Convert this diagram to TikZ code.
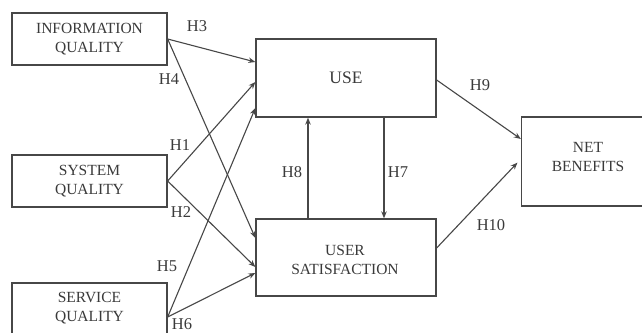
\documentclass[tikz,border=0pt]{standalone}
\usepackage{fontspec}
\setmainfont{Liberation Serif}
\usetikzlibrary{arrows.meta}
\definecolor{inkline}{HTML}{474747}
\definecolor{inktext}{HTML}{3A3A3A}
\tikzset{
  construct/.style={draw=inkline, line width=1.3pt, fill=white, text=inktext,
    align=center, inner sep=0pt, font=\fontsize{15.5}{18.3}\selectfont},
  path/.style={draw=inkline, line width=1.1pt, -{Stealth[length=7pt,width=5.5pt]}},
  hyp/.style={text=inktext, inner sep=0pt, font=\fontsize{16.5}{18}\selectfont}
}
\begin{document}
\begin{tikzpicture}[x=1pt, y=-1pt]
  \useasboundingbox (0,0) rectangle (642,332);
  \fill[white] (0,0) rectangle (642,332);
  \clip (0,0) rectangle (642,332);

  % exogenous constructs
  \node[construct, minimum width=155pt, minimum height=52pt] (info) at (89.5,39) {INFORMATION\\QUALITY};
  \node[construct, minimum width=155pt, minimum height=52pt] (sys) at (89.5,181) {SYSTEM\\QUALITY};
  \node[construct, minimum width=155pt, minimum height=68pt] (serv) at (89.5,317) {};
  \node[construct, draw=none, fill=none] at (89.5,308) {SERVICE\\QUALITY};

  % mediators and outcome
  \node[construct, minimum width=180pt, minimum height=78pt, font=\fontsize{17.5}{20}\selectfont] (use) at (346,78) {USE};
  \node[construct, minimum width=180pt, minimum height=77pt] (us) at (346,257.5) {};
  \node[construct, draw=none, fill=none] at (345,260) {USER\\SATISFACTION};
  \node[construct, minimum width=124pt, minimum height=89pt] (nb) at (583.5,161.5) {};
  \node[construct, draw=none, fill=none] at (588,157) {NET\\BENEFITS};

  % hypothesised paths
  \draw[path] (info.east) -- ([yshift=16pt]use.west);
  \draw[path] (info.east) -- ([yshift=19.5pt]us.west);
  \draw[path] (sys.east) -- ([yshift=-4pt]use.west);
  \draw[path] (sys.east) -- ([yshift=-9.5pt]us.west);
  \draw[path] (serv.east) -- ([yshift=-30pt]use.west);
  \draw[path] (serv.east) -- ([yshift=-15.5pt]us.west);
  \draw[path] ([xshift=-38pt]us.north) -- ([xshift=-38pt]use.south);
  \draw[path] ([xshift=38pt]use.south) -- ([xshift=38pt]us.north);
  \draw[path] ([yshift=-2pt]use.east) -- ([yshift=22.5pt]nb.west);
  \draw[path, shorten >=5pt] ([yshift=9.5pt]us.east) -- ([yshift=2.5pt]nb.west);

  % path labels
  \node[hyp] (h3) at (197,26) {H3};
  \node[hyp] (h4) at (169,79) {H4};
  \node[hyp] (h1) at (180,145) {H1};
  \node[hyp] (h2) at (181,212) {H2};
  \node[hyp] (h5) at (167,266) {H5};
  \node[hyp] (h6) at (182,324) {H6};
  \node[hyp] (h8) at (292,172) {H8};
  \node[hyp] (h7) at (398,172) {H7};
  \node[hyp] (h9) at (480,85) {H9};
  \node[hyp] (h10) at (491,225) {H10};
\end{tikzpicture}
\end{document}
